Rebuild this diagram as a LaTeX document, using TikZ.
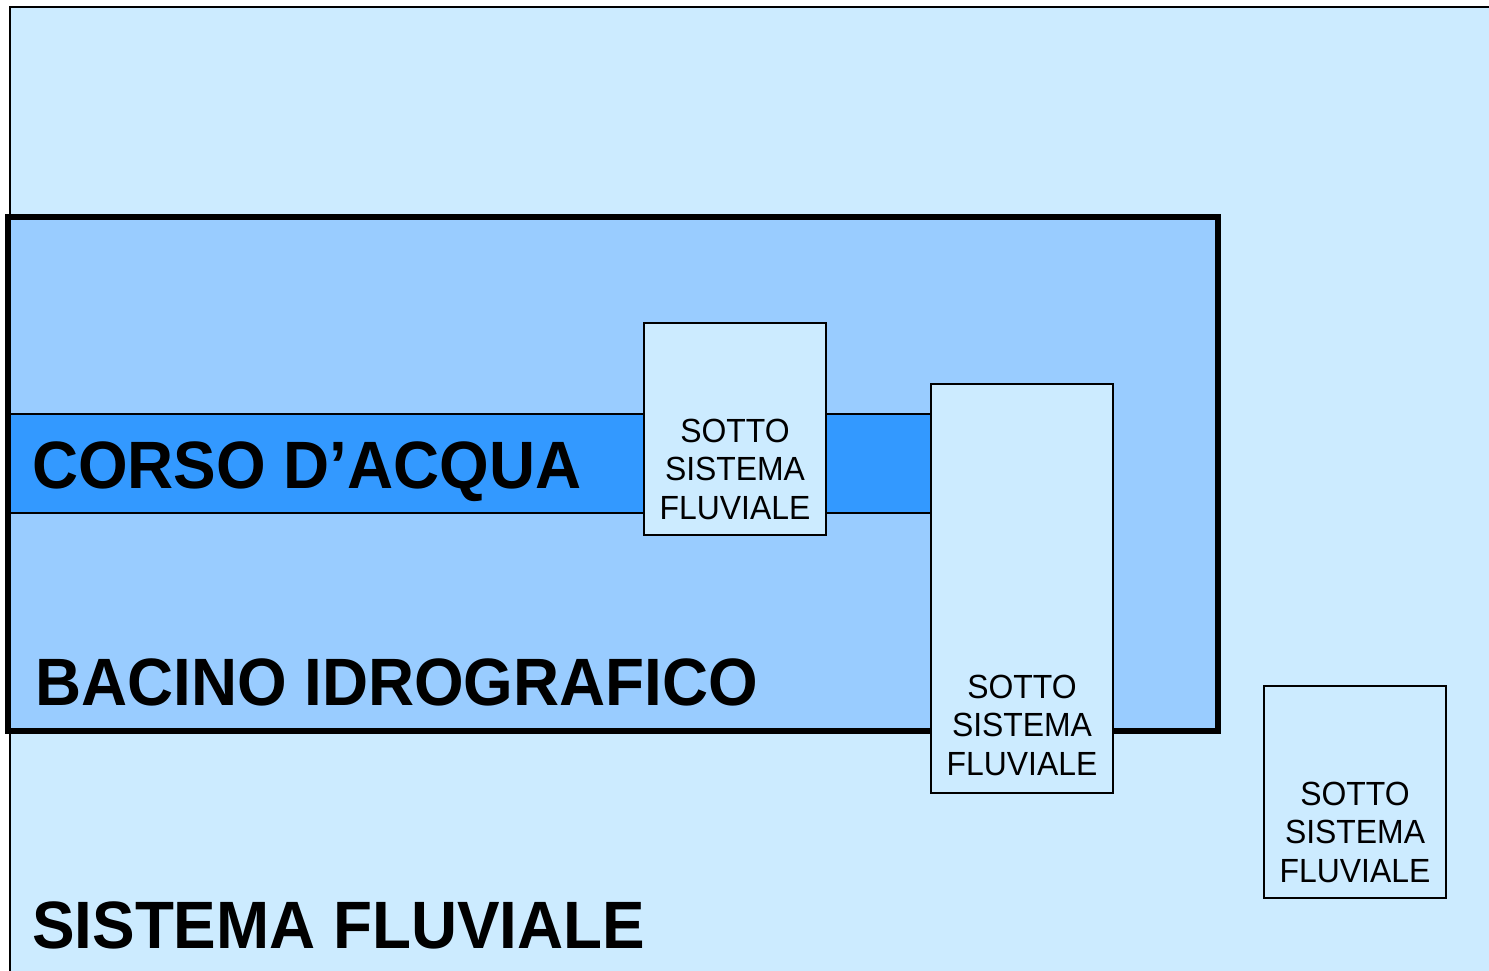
\documentclass[tikz,border=0pt]{standalone}
\usepackage{fontspec}
\usepackage{graphicx}
\setmainfont{Liberation Sans}
\definecolor{pale}{HTML}{CCEBFF}
\definecolor{basinblue}{HTML}{99CCFF}
\definecolor{riverblue}{HTML}{3399FF}
\newcommand{\narrowtext}[1]{\scalebox{0.952}[1]{#1}}
\begin{document}
\begin{tikzpicture}[x=1pt,y=-1pt,
  bigtitle/.style={anchor=base west, inner sep=0pt, font=\fontsize{67}{80}\selectfont\bfseries},
  subbox/.style={draw=black, line width=1.6pt, fill=pale, inner sep=0pt, minimum width=182pt},
  subtext/.style={anchor=base, inner sep=0pt, align=center, font=\fontsize{33.5}{38.5}\selectfont}]
\useasboundingbox (0,0) rectangle (1489,971);
\clip (0,0) rectangle (1489,971);
% outer system
\node[draw=black, line width=2pt, fill=pale, minimum width=1520pt, minimum height=1000pt, anchor=north west] (sistema) at (9,6) {};
% basin fill
\node[fill=basinblue, minimum width=1210pt, minimum height=514pt, inner sep=0pt] (bacino) at (613,474) {};
% river band
\node[fill=riverblue, minimum width=921pt, minimum height=99pt, inner sep=0pt] (corso) at (470.5,463.5) {};
\draw[line width=1.5pt] (corso.north west) -- (corso.north east);
\draw[line width=1.5pt] (corso.south west) -- (corso.south east);
% basin border
\draw[line width=6pt] (bacino.north west) rectangle (bacino.south east);
% sub-systems
\node[subbox, minimum height=212pt] (sub1) at (735,429) {};
\node[subbox, minimum height=409pt] (sub2) at (1022,588.5) {};
\node[subbox, minimum height=212pt] (sub3) at (1355,792) {};
\node[subtext] (t1) at (735,519) {\narrowtext{SOTTO}\\\narrowtext{SISTEMA}\\\narrowtext{FLUVIALE}};
\node[subtext] (t2) at (1022,775) {\narrowtext{SOTTO}\\\narrowtext{SISTEMA}\\\narrowtext{FLUVIALE}};
\node[subtext] (t3) at (1355,882) {\narrowtext{SOTTO}\\\narrowtext{SISTEMA}\\\narrowtext{FLUVIALE}};
% titles
\node[bigtitle] (lcorso) at (32,488) {\narrowtext{CORSO D’ACQUA}};
\node[bigtitle] (lbacino) at (35,705) {\narrowtext{BACINO IDROGRAFICO}};
\node[bigtitle] (lsistema) at (32,948) {\narrowtext{SISTEMA FLUVIALE}};
\end{tikzpicture}
\end{document}
